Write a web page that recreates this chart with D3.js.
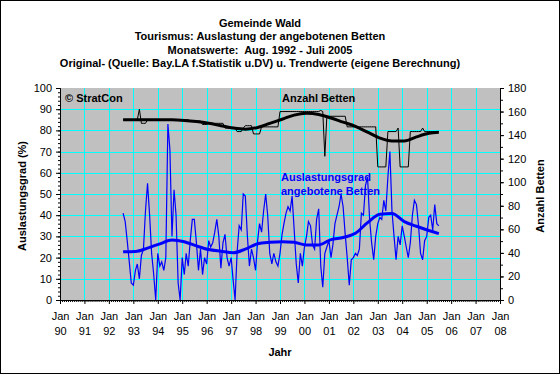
<!DOCTYPE html>
<html>
<head>
<meta charset="utf-8">
<script src="https://cdn.jsdelivr.net/npm/d3@7"></script>
<style>
  body { margin: 0; background: #fff; }
  svg { display: block; font-family: "Liberation Sans", Arial, sans-serif; }
</style>
</head>
<body>
<svg id="chart" width="560" height="374"></svg>
<script>
// monthly values, Aug 1992 .. Jul 2005
const startYear = 1992, startMonth = 7;

const auslastung = [
  41, 37, 28, 18, 8,
  7, 14, 17, 10, 21, 24, 42, 55, 40, 22, 12, 0,
  22, 16, 18, 14, 20, 83, 71, 30, 52, 40, 8, 0,
  20, 12, 22, 16, 28, 38, 38, 27, 14, 24, 12, 20,
  17, 28, 25, 27, 32, 38, 30, 15, 27, 31, 20, 16,
  20, 9, 0, 23, 35, 33, 50, 49, 30, 16, 24, 20,
  14, 28, 36, 32, 42, 50, 40, 22, 17, 22, 18, 16,
  22, 31, 36, 41, 44, 42, 49, 33, 17, 8, 22, 16,
  25, 30, 37, 35, 26, 24, 38, 43, 16, 6, 22, 25,
  28, 20, 26, 36, 40, 44, 50, 44, 31, 20, 7, 19,
  20, 22, 21, 24, 41, 40, 54, 58, 38, 27, 19, 30,
  36, 39, 38, 47, 42, 58, 70, 42, 30, 19, 30, 26,
  35, 30, 25, 20, 27, 40, 47, 45, 35, 22, 19, 28,
  30, 39, 40, 33, 45, 36, 35
];

const betten = [
  153, 153, 153, 153, 153,
  153, 153, 153, 162, 150, 150, 150, 153, 153, 153, 153, 153,
  153, 153, 153, 153, 153, 153, 153, 153, 153, 153, 153, 153,
  153, 153, 153, 153, 152, 152, 152, 152, 152, 152, 149, 149,
  149, 150, 150, 150, 150, 150, 150, 150, 150, 146, 146, 146,
  146, 146, 146, 143, 143, 143, 146, 148, 148, 148, 148, 141,
  141, 141, 141, 147, 147, 147, 147, 147, 147, 147, 147, 147,
  160, 160, 160, 160, 160, 160, 160, 160, 160, 160, 160, 160,
  160, 160, 160, 160, 160, 160, 160, 160, 161, 160, 122, 156,
  156, 156, 156, 156, 156, 156, 156, 156, 156, 147, 147, 147,
  147, 147, 147, 147, 147, 147, 147, 147, 147, 147, 147, 147,
  113, 113, 113, 113, 113, 143, 143, 143, 143, 143, 146, 113,
  113, 113, 113, 113, 143, 143, 143, 143, 143, 143, 146, 143,
  143, 143, 143, 143, 143, 143, 143
];

// trend values, read every six months (month offset from Aug 1992)
const trendMonths = [0, 6, 12, 18, 24, 30, 36, 42, 48, 54, 60, 66, 72, 78, 84,
  90, 96, 102, 108, 114, 120, 126, 132, 138, 144, 150, 155];
const auslastungTrend = [22.8, 22.9, 24.5, 26.5, 28.3, 27.5, 25.5, 23.8, 23, 22.3, 24,
  26.5, 27.2, 27.5, 27.2, 26, 26, 28.5, 29.5, 31.5, 36.5, 40.5, 40.8, 37, 34.8, 32.8, 31.3];
const bettenTrend = [153, 153, 153, 153, 153, 152.5, 151.5, 150, 148, 146, 145,
  146.5, 150, 153.5, 157, 158.5, 157.5, 154.5, 151, 147.5, 142.5, 137.5, 135, 135, 138.5, 141.5, 142.5];

const titleLines = [
  "Gemeinde Wald",
  "Tourismus: Auslastung der angebotenen Betten",
  "Monatswerte:  Aug. 1992 - Juli 2005",
  "Original- (Quelle: Bay.LA f.Statistik u.DV) u. Trendwerte (eigene Berechnung)"
];
const yearLabels = ["90", "91", "92", "93", "94", "95", "96", "97", "98", "99",
  "00", "01", "02", "03", "04", "05", "06", "07", "08"];

const monthDate = (i) => new Date(startYear, startMonth + i, 1);

const svg = d3.select("#chart");
const W = 560, H = 374;
const plot = { left: 60, right: 500, top: 88, bottom: 300 };

const x = d3.scaleTime()
    .domain([new Date(1990, 0, 1), new Date(2008, 0, 1)])
    .range([plot.left, plot.right]);
const yL = d3.scaleLinear().domain([0, 100]).range([plot.bottom, plot.top]);
const yR = d3.scaleLinear().domain([0, 180]).range([plot.bottom, plot.top]);

svg.append("rect")
    .attr("x", 0.5).attr("y", 0.5)
    .attr("width", W - 1).attr("height", H - 1)
    .attr("fill", "#fff").attr("stroke", "#000");

svg.append("g")
  .selectAll("text")
  .data(titleLines)
  .enter().append("text")
    .attr("x", 260)
    .attr("y", (d, i) => 27 + i * 13.4)
    .attr("text-anchor", "middle")
    .style("font-size", "11px")
    .style("font-weight", "bold")
    .style("white-space", "pre")
    .text((d) => d);

svg.append("rect")
    .attr("x", plot.left).attr("y", plot.top)
    .attr("width", plot.right - plot.left)
    .attr("height", plot.bottom - plot.top)
    .attr("fill", "#c0c0c0");

// grid
const years = x.ticks(d3.timeYear.every(1));
const grid = svg.append("g").attr("stroke", "#00ffff").attr("stroke-width", 1);
grid.selectAll("line.h")
  .data(d3.range(10, 100, 10))
  .enter().append("line")
    .attr("x1", plot.left).attr("x2", plot.right)
    .attr("y1", (d) => Math.round(yL(d)) + 0.5)
    .attr("y2", (d) => Math.round(yL(d)) + 0.5);
grid.selectAll("line.v")
  .data(years.slice(1, -1))
  .enter().append("line")
    .attr("y1", plot.top).attr("y2", plot.bottom)
    .attr("x1", (d) => Math.round(x(d)) + 0.5)
    .attr("x2", (d) => Math.round(x(d)) + 0.5);

svg.append("text")
    .attr("x", 65).attr("y", 102)
    .style("font-size", "11px").style("font-weight", "bold")
    .text("\u00a9 StratCon");
svg.append("text")
    .attr("x", 282).attr("y", 102)
    .style("font-size", "11px").style("font-weight", "bold")
    .text("Anzahl Betten");
svg.append("text")
    .attr("x", 281).attr("y", 181)
    .attr("fill", "#0000ff")
    .style("font-size", "11px").style("font-weight", "bold")
    .text("Auslastungsgrad");
svg.append("text")
    .attr("x", 281).attr("y", 195)
    .attr("fill", "#0000ff")
    .style("font-size", "11px").style("font-weight", "bold")
    .text("angebotene Betten");

// series
const monthly = (values, scale) => d3.line()
    .x((d, i) => x(monthDate(i)))
    .y((d) => scale(d))(values);
const trend = (values, scale) => d3.line()
    .curve(d3.curveMonotoneX)
    .x((d, i) => x(monthDate(trendMonths[i])))
    .y((d) => scale(d))(values);

svg.append("path")
    .attr("d", monthly(betten, yR))
    .attr("fill", "none").attr("stroke", "#000").attr("stroke-width", 1);
svg.append("path")
    .attr("d", trend(bettenTrend, yR))
    .attr("fill", "none").attr("stroke", "#000").attr("stroke-width", 3);
svg.append("path")
    .attr("d", monthly(auslastung, yL))
    .attr("fill", "none").attr("stroke", "#0000ff").attr("stroke-width", 1.2);
svg.append("path")
    .attr("d", trend(auslastungTrend, yL))
    .attr("fill", "none").attr("stroke", "#0000ff").attr("stroke-width", 3);

// axes
const styleAxis = (g) => {
  g.select(".domain").attr("stroke", "#000");
  g.selectAll(".tick line").attr("stroke", "#000");
  g.selectAll("text").style("font-size", "11px").attr("fill", "#000")
    .style("font-family", "\"Liberation Sans\", Arial, sans-serif");
};

svg.append("g")
    .attr("transform", `translate(${plot.left},0)`)
    .call(d3.axisLeft(yL).tickValues(d3.range(0, 101, 2)).tickSize(2).tickFormat(""))
    .call(styleAxis);
svg.append("g")
    .attr("transform", `translate(${plot.left},0)`)
    .call(d3.axisLeft(yL).tickValues(d3.range(0, 101, 10)).tickSize(4).tickPadding(4))
    .call(styleAxis);

svg.append("g")
    .attr("transform", `translate(${plot.right},0)`)
    .call(d3.axisRight(yR).tickValues(d3.range(0, 181, 10)).tickSize(3).tickFormat(""))
    .call(styleAxis);
svg.append("g")
    .attr("transform", `translate(${plot.right},0)`)
    .call(d3.axisRight(yR).tickValues(d3.range(0, 181, 20)).tickSize(4).tickPadding(4))
    .call(styleAxis);

svg.append("g")
    .attr("transform", `translate(0,${plot.bottom})`)
    .call(d3.axisBottom(x).ticks(d3.timeMonth.every(1)).tickSize(2).tickFormat(""))
    .call(styleAxis);
const xAxis = svg.append("g")
    .attr("transform", `translate(0,${plot.bottom})`)
    .call(d3.axisBottom(x).tickValues(years).tickSize(4).tickFormat(""))
    .call(styleAxis);
xAxis.selectAll(".tick").each(function(d, i) {
  const t = d3.select(this).append("text")
      .attr("fill", "#000")
      .attr("text-anchor", "middle")
      .style("font-size", "11px");
  t.append("tspan").attr("x", 0).attr("y", 20).text("Jan");
  t.append("tspan").attr("x", 0).attr("y", 35).text(yearLabels[i]);
});

svg.append("text")
    .attr("x", 280).attr("y", 356)
    .attr("text-anchor", "middle")
    .style("font-size", "11px").style("font-weight", "bold")
    .text("Jahr");
svg.append("text")
    .attr("transform", "translate(26,196) rotate(-90)")
    .attr("text-anchor", "middle")
    .style("font-size", "11px").style("font-weight", "bold")
    .text("Auslastungsgrad (%)");
svg.append("text")
    .attr("transform", "translate(544,196) rotate(-90)")
    .attr("text-anchor", "middle")
    .style("font-size", "11px").style("font-weight", "bold")
    .text("Anzahl Betten");
</script>
</body>
</html>
